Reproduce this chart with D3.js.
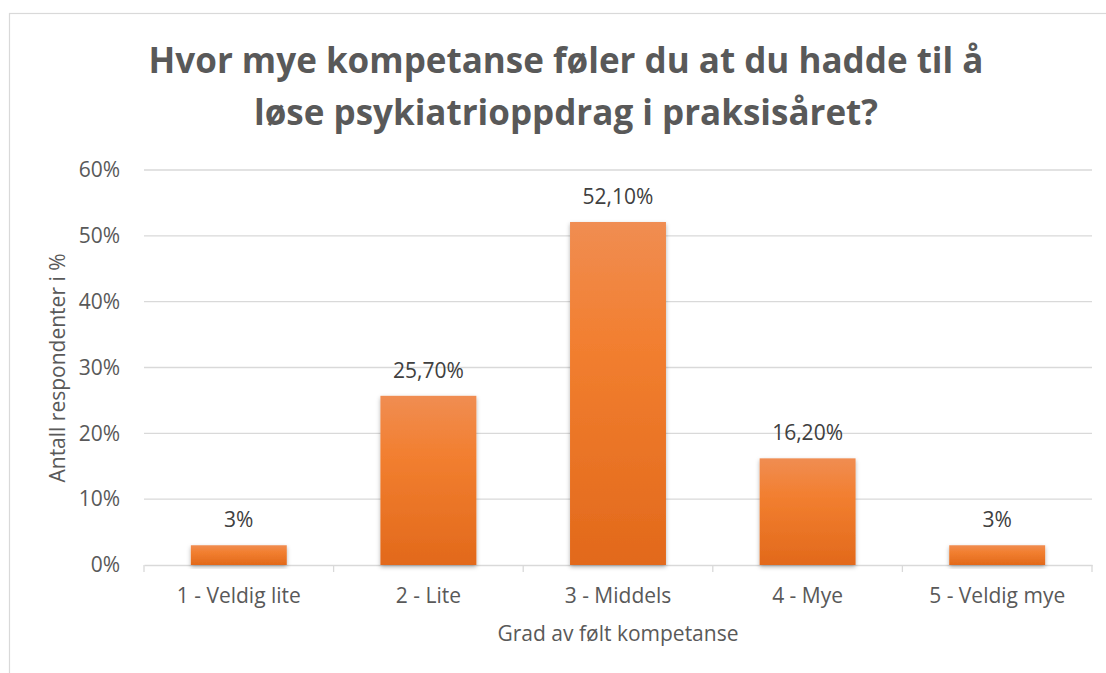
<!DOCTYPE html>
<html>
<head>
<meta charset="utf-8">
<script src="https://cdn.jsdelivr.net/npm/d3@7"></script>
<style>
  body { margin: 0; background: #fff; }
  svg { display: block; font-family: "Open Sans", sans-serif; }
</style>
</head>
<body>
<svg id="svgRoot" width="1106" height="673"></svg>
<script>
// data
const categories = ["1 - Veldig lite", "2 - Lite", "3 - Middels", "4 - Mye", "5 - Veldig mye"]
const values = [3, 25.7, 52.1, 16.2, 3]
const value_labels = ["3%", "25,70%", "52,10%", "16,20%", "3%"]
const y_ticks = [0, 10, 20, 30, 40, 50, 60]
const title_lines = ["Hvor mye kompetanse føler du at du hadde til å", "løse psykiatrioppdrag i praksisåret?"]

const svg = d3.select("#svgRoot")
const width = 1106
const height = 673
const margin = { top: 170, left: 144, bottom: 108, right: 14 }
const fs = 21

// chart border
svg.append("rect")
  .attr("x", 9.5).attr("y", 13.5)
  .attr("width", width).attr("height", height)
  .attr("fill", "none").attr("stroke", "#d9d9d9").attr("stroke-width", 1.2)

// gradient + shadow for bars
const defs = svg.append("defs")
const grad = defs.append("linearGradient").attr("id", "barGrad")
  .attr("x1", 0).attr("y1", 0).attr("x2", 0).attr("y2", 1)
grad.append("stop").attr("offset", "0%").attr("stop-color", "#f08d52")
grad.append("stop").attr("offset", "35%").attr("stop-color", "#f27f30")
grad.append("stop").attr("offset", "100%").attr("stop-color", "#e2691b")
const shadow = defs.append("filter").attr("id", "shadow")
  .attr("x", "-10%").attr("y", "-10%").attr("width", "120%").attr("height", "130%")
shadow.append("feDropShadow").attr("dx", 0).attr("dy", 2).attr("stdDeviation", 2)
  .attr("flood-color", "#000").attr("flood-opacity", 0.3)

const x = d3.scaleBand()
  .domain(categories)
  .range([margin.left, width - margin.right])
  .paddingInner(0.494).paddingOuter(0.247)

const y = d3.scaleLinear()
  .domain([0, 60])
  .range([height - margin.bottom, margin.top])

// gridlines
svg.append("g")
  .selectAll("line")
  .data(y_ticks.filter(d => d > 0))
  .enter().append("line")
  .attr("x1", margin.left).attr("x2", width - margin.right)
  .attr("y1", d => y(d)).attr("y2", d => y(d))
  .attr("stroke", "#d9d9d9").attr("stroke-width", 1.3)

// y axis
const g_yAxis = svg.append("g")
  .attr("transform", "translate(" + (margin.left - 24) + ",0)")
  .call(d3.axisLeft(y).tickValues(y_ticks).tickFormat(d => d + "%").tickSize(0).tickPadding(0))
g_yAxis.select(".domain").remove()
g_yAxis.selectAll("text")
  .attr("font-family", "Open Sans").attr("font-size", fs).attr("fill", "#595959")

// x axis
const g_xAxis = svg.append("g")
  .attr("transform", "translate(0," + y(0) + ")")
  .call(d3.axisBottom(x).tickSize(0).tickPadding(23))
g_xAxis.select(".domain").attr("stroke", "#d9d9d9").attr("stroke-width", 1.3)
g_xAxis.selectAll("text")
  .attr("font-family", "Open Sans").attr("font-size", fs).attr("fill", "#595959")

// tick marks between categories
const step = x.step()
const boundaries = d3.range(categories.length + 1).map(i => margin.left + i * step)
svg.append("g")
  .selectAll("line")
  .data(boundaries)
  .enter().append("line")
  .attr("x1", d => d).attr("x2", d => d)
  .attr("y1", y(0)).attr("y2", y(0) + 7)
  .attr("stroke", "#d9d9d9").attr("stroke-width", 1.3)

// bars
svg.append("g")
  .selectAll(".bar")
  .data(values)
  .enter().append("rect")
  .attr("class", "bar")
  .attr("x", (d, i) => x(categories[i]))
  .attr("y", d => y(d))
  .attr("width", x.bandwidth())
  .attr("height", d => y(0) - y(d))
  .attr("fill", "url(#barGrad)")
  .attr("filter", "url(#shadow)")

// value labels
svg.append("g")
  .selectAll("text")
  .data(values)
  .enter().append("text")
  .attr("x", (d, i) => x(categories[i]) + x.bandwidth() / 2)
  .attr("y", d => y(d) - 18)
  .attr("text-anchor", "middle")
  .attr("font-size", fs).attr("fill", "#404040")
  .text((d, i) => value_labels[i])

// title
svg.append("g")
  .selectAll("text")
  .data(title_lines)
  .enter().append("text")
  .attr("x", 566)
  .attr("y", (d, i) => 73 + i * 52)
  .attr("text-anchor", "middle")
  .attr("font-size", 35).attr("font-weight", "bold").attr("fill", "#595959")
  .text(d => d)

// axis titles
svg.append("text")
  .attr("x", 618).attr("y", 641)
  .attr("text-anchor", "middle")
  .attr("font-size", fs).attr("fill", "#595959")
  .text("Grad av følt kompetanse")

svg.append("text")
  .attr("transform", "translate(65,368) rotate(-90)")
  .attr("text-anchor", "middle")
  .attr("font-size", fs).attr("fill", "#595959")
  .text("Antall respondenter i %")
</script>
</body>
</html>
